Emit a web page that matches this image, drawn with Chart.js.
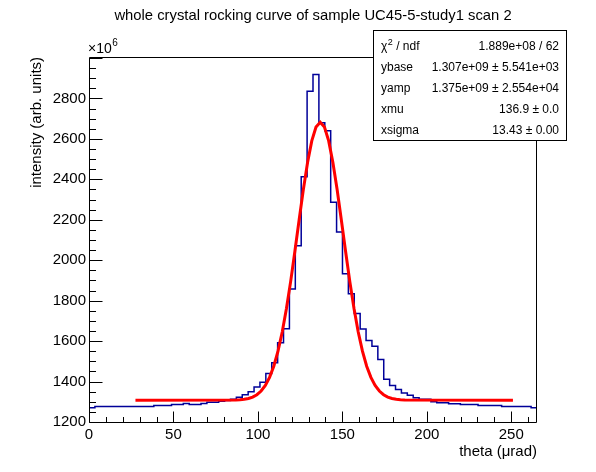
<!DOCTYPE html>
<html><head><meta charset="utf-8">
<script src="https://cdn.jsdelivr.net/npm/chart.js@4/dist/chart.umd.min.js"></script>
<style>html,body{margin:0;padding:0;background:#fff;}canvas{display:block;}</style>
</head><body>
<canvas id="c" width="596" height="472" style="width:596px;height:472px"></canvas>
<script>
// ---- data ----
const chartTitle = "whole crystal rocking curve of sample UC45-5-study1 scan 2";
const xAxisTitle = "theta (\u03bcrad)";
const yAxisTitle = "intensity (arb. units)";
const binWidth = 3.49;          // theta per bin (µrad)
const binCounts = [             // intensity per bin, x10^6
  1271,1276,1276,1276,1276,1276,1276,1276,1276,1276,
  1276,1282,1282,1282,1287,1287,1292,1287,1287,1292,
  1297,1297,1302,1306,1312,1322,1335,1350,1373,1396,
  1440,1493,1592,1661,1858,2071,2413,2836,2918,2680,
  2640,2287,2139,1933,1834,1736,1660,1603,1575,1509,
  1411,1381,1361,1343,1332,1320,1312,1312,1300,1295,
  1295,1290,1290,1286,1286,1286,1281,1281,1281,1281,
  1276,1276,1276,1276,1276,1271
];
const fitX = [27.5,86.9,89.4,91.9,94.4,96.9,99.4,101.9,104.4,106.9,109.4,111.9,114.4,116.9,119.4,121.9,124.4,126.9,129.4,131.9,134.4,
  136.9,139.4,141.9,144.4,146.9,149.4,151.9,154.4,156.9,159.4,161.9,164.4,166.9,169.4,171.9,174.4,176.9,179.4,181.9,184.4,186.9,251.0];
const fitY = [1307.0,1308.3,1309.6,1312.0,1316.2,1323.3,1334.9,1353.1,1380.6,1420.5,1476.0,1550.2,1644.9,1760.7,1895.3,2043.9,2198.7,2349.1,2483.5,2589.9,2658.4,
  2682.0,2658.4,2589.9,2483.5,2349.1,2198.7,2043.9,1895.3,1760.7,1644.9,1550.2,1476.0,1420.5,1380.6,1353.1,1334.9,1323.3,1316.2,1312.0,1309.6,1308.3,1307.0];
const xTickValues = [0,50,100,150,200,250];
const yTickValues = [1200,1400,1600,1800,2000,2200,2400,2600,2800];
const xRange = [0, 265.24];
const yRange = [1195, 3005];
const yExponent = "6";
const statNames = ["ndf", "ybase", "yamp", "xmu", "xsigma"];
const statValues = ["1.889e+08 / 62", "1.307e+09 \u00b1 5.541e+03", "1.375e+09 \u00b1 2.554e+04", "136.9 \u00b1 0.0", "13.43 \u00b1 0.00"];

// ---- build ----
const histPoints = binCounts.map((v, i) => ({x: i * binWidth, y: v}));
histPoints.push({x: binCounts.length * binWidth, y: binCounts[binCounts.length - 1]});
const fitPoints = fitX.map((x, i) => ({x: x, y: fitY[i]}));

const FONT = "'Liberation Sans', Arial, Helvetica, sans-serif";

const rootPlugin = {
  id: 'rootDeco',
  afterDatasetsDraw(chart) {
    const ctx = chart.ctx;
    const a = chart.chartArea;
    const xs = chart.scales.x, ys = chart.scales.y;
    ctx.save();
    ctx.strokeStyle = '#000';
    ctx.lineWidth = 1;
    const L = Math.round(a.left) + 0.5, R = Math.round(a.right) - 0.5;
    const T = Math.round(a.top) + 0.5, B = Math.round(a.bottom) - 0.5;
    ctx.beginPath();
    ctx.rect(L, T, R - L, B - T);
    ctx.stroke();
    // y ticks
    ctx.beginPath();
    for (let v = 1200; v <= yRange[1]; v += 50) {
      const py = Math.round(ys.getPixelForValue(v)) + 0.5;
      if (py < T || py > B) continue;
      const len = (v % 200 === 0) ? 13 : 6.5;
      ctx.moveTo(L, py); ctx.lineTo(L + len, py);
    }
    // x ticks
    for (let v = 0; v <= xRange[1]; v += 10) {
      const px = Math.round(xs.getPixelForValue(v)) + 0.5;
      const len = (v % 50 === 0) ? 11 : 5.5;
      ctx.moveTo(px, B); ctx.lineTo(px, B - len);
    }
    ctx.stroke();
    // x10^6
    ctx.fillStyle = '#000';
    ctx.textBaseline = 'alphabetic';
    ctx.textAlign = 'left';
    ctx.font = '14px ' + FONT;
    ctx.fillText('\u00d710', 88, 53);
    const w = ctx.measureText('\u00d710').width;
    ctx.font = '10px ' + FONT;
    ctx.fillText(yExponent, 88 + w + 0.5, 46);
    // stats box
    const bx = 373.5, by = 30.5, bw = 193, bh = 110;
    ctx.fillStyle = '#fff';
    ctx.fillRect(bx, by, bw, bh);
    ctx.strokeRect(bx, by, bw, bh);
    ctx.fillStyle = '#000';
    const rowH = 21;
    for (let i = 0; i < statNames.length; i++) {
      const y = by + 19 + i * rowH;
      ctx.font = '12px ' + FONT;
      ctx.textAlign = 'left';
      if (i === 0) {
        ctx.fillText('\u03c7', 381, y);
        let cw = ctx.measureText('\u03c7').width;
        ctx.font = '9px ' + FONT;
        ctx.fillText('2', 381 + cw + 0.5, y - 5);
        let sw = ctx.measureText('2').width;
        ctx.font = '12px ' + FONT;
        ctx.fillText(' / ' + statNames[0], 381 + cw + sw + 0.5, y);
      } else {
        ctx.fillText(statNames[i], 381, y);
      }
      ctx.textAlign = 'right';
      ctx.fillText(statValues[i], 559, y);
    }
    ctx.restore();
  }
};

new Chart(document.getElementById('c'), {
  type: 'scatter',
  data: {
    datasets: [
      {label: 'fit', data: fitPoints, showLine: true, borderColor: '#ff0000', borderWidth: 3,
       pointRadius: 0, fill: false, tension: 0, order: 0},
      {label: 'hist', data: histPoints, showLine: true, stepped: 'before', borderColor: '#000099', borderWidth: 1.5,
       pointRadius: 0, fill: false, order: 1}
    ]
  },
  options: {
    responsive: false,
    animation: false,
    devicePixelRatio: 1,
    layout: {padding: {left: 0, right: 59, top: 0, bottom: 0}},
    plugins: {
      legend: {display: false},
      tooltip: {enabled: false},
      title: {display: true, text: chartTitle, color: '#000', fullSize: false,
              font: {family: FONT, size: 14.8, weight: 'normal'},
              padding: {top: 7, bottom: 32.2}}
    },
    scales: {
      x: {
        type: 'linear', min: xRange[0], max: xRange[1],
        afterBuildTicks: s => { s.ticks = xTickValues.map(v => ({value: v})); },
        afterFit: s => { s.height = 49; },
        grid: {display: false, drawTicks: false},
        border: {display: false},
        ticks: {color: '#000', font: {family: FONT, size: 15}, padding: 3, maxRotation: 0, autoSkip: false,
                callback: v => String(v)},
        title: {display: true, text: xAxisTitle, align: 'end', color: '#000',
                font: {family: FONT, size: 15}, padding: {top: 0, bottom: 11}}
      },
      y: {
        type: 'linear', min: yRange[0], max: yRange[1],
        afterBuildTicks: s => { s.ticks = yTickValues.map(v => ({value: v})); },
        afterFit: s => { s.width = 89; },
        grid: {display: false, drawTicks: false},
        border: {display: false},
        ticks: {color: '#000', font: {family: FONT, size: 15}, padding: 3, autoSkip: false,
                callback: v => String(v)},
        title: {display: true, text: yAxisTitle, align: 'end', color: '#000',
                font: {family: FONT, size: 15}, padding: {top: 28, bottom: 0}}
      }
    }
  },
  plugins: [rootPlugin]
});
</script>
</body></html>
